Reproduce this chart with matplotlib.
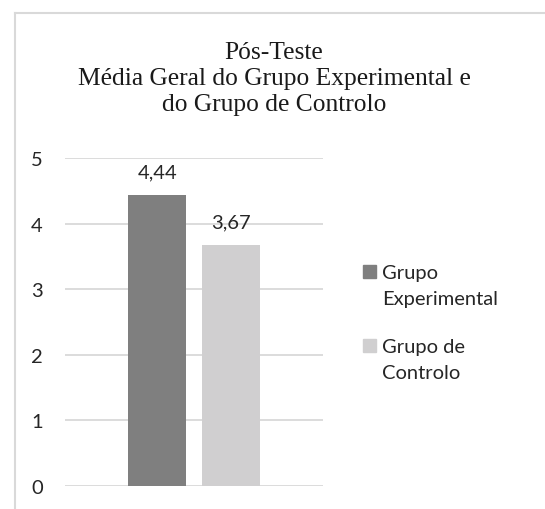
import matplotlib
matplotlib.use("Agg")
import matplotlib.pyplot as plt
from matplotlib.lines import Line2D
from matplotlib.patches import Rectangle

title = "Pós-Teste\nMédia Geral do Grupo Experimental e\ndo Grupo de Controlo"
series = ["Grupo\nExperimental", "Grupo de\nControlo"]
values = [4.44, 3.67]
labels = ["4,44", "3,67"]
colors = ["#7f7f7f", "#d0cfd0"]
yticks = [0, 1, 2, 3, 4, 5]

W, H = 545, 510
FONT = "Lato"
FS = 14.5
TXT = "#262626"
fig = plt.figure(figsize=(W / 100, H / 100), dpi=100)
fig.patch.set_facecolor("white")

# chart border (left and top visible)
fig.add_artist(Line2D([15 / W, 15 / W], [0, 1 - 14 / H], transform=fig.transFigure,
                      color="#d9d9d9", lw=1.5))
fig.add_artist(Line2D([15 / W, 1], [1 - 14 / H, 1 - 14 / H], transform=fig.transFigure,
                      color="#d9d9d9", lw=1.5))

fig.text(274 / W, 1 - 79 / H, title, ha="center", va="center",
         family="Liberation Serif", fontsize=18.4, linespacing=1.26, color="#1a1a1a")

ax = fig.add_axes([65 / W, 23 / H, 258 / W, 328 / H])
ax.set_xlim(-0.5, 0.5)
ax.set_ylim(0, 5)
offs = [-0.1425, 0.1425]
for i, (v, c, lab) in enumerate(zip(values, colors, labels)):
    ax.bar(offs[i], v, width=0.225, color=c, zorder=3, label=series[i])
    ax.text(offs[i], v + 0.22, lab, ha="center", va="bottom", family=FONT,
            fontsize=FS, color=TXT)
ax.set_yticks(yticks)
ax.set_yticklabels([str(t) for t in yticks], family=FONT, fontsize=FS, color=TXT)
ax.tick_params(axis="y", length=0, pad=16)
ax.set_xticks([])
for s in ax.spines.values():
    s.set_visible(False)
ax.grid(axis="y", color="#d9d9d9", lw=1.3, zorder=0)
ax.set_axisbelow(True)

# legend (manual, Excel-style: square aligned with first text line)
leg_y = [272, 346]
for name, c, y in zip(series, colors, leg_y):
    fig.add_artist(Rectangle((363 / W, 1 - (y + 6.5) / H), 13 / W, 13 / H,
                             transform=fig.transFigure, color=c))
    fig.text(382 / W, 1 - (y - 7) / H, name, ha="left", va="top", family=FONT,
             fontsize=FS, color=TXT, linespacing=1.65)

fig.savefig("out.png", dpi=100, facecolor="white")
